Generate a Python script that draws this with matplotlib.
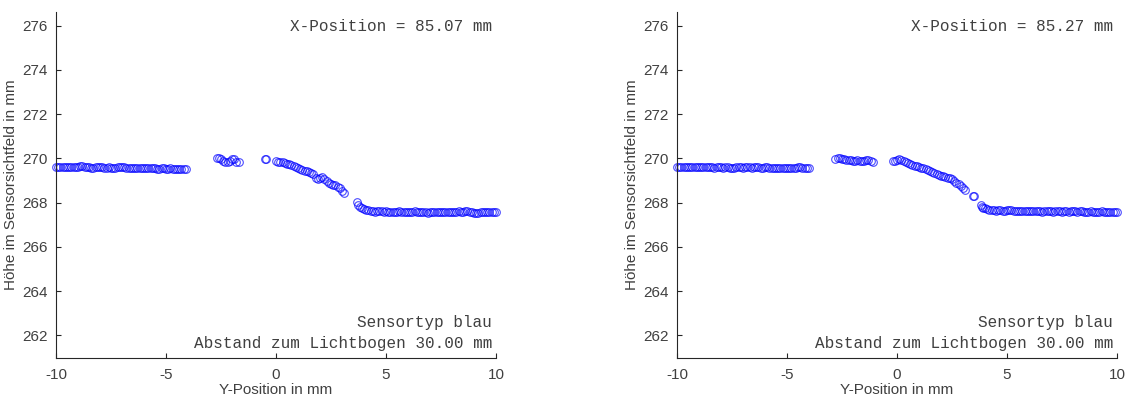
import numpy as np
import matplotlib.pyplot as plt

# Profil 1 (X = 85.07 mm)
y_pos_1 = [
    -10.0, -9.9, -9.8, -9.7, -9.6, -9.5, -9.4, -9.3, -9.2, -9.1, -9.0,
    -8.9, -8.8, -8.7, -8.6, -8.5, -8.4, -8.3, -8.2, -8.1, -8.0,
    -7.9, -7.8, -7.7, -7.6, -7.5, -7.4, -7.3, -7.2, -7.1, -7.0,
    -6.9, -6.8, -6.7, -6.6, -6.5, -6.4, -6.3, -6.2, -6.1, -6.0,
    -5.9, -5.8, -5.7, -5.6, -5.5, -5.4, -5.3, -5.2, -5.1, -5.0,
    -4.9, -4.8, -4.7, -4.6, -4.5, -4.4, -4.3, -4.2, -4.1,
    -2.7, -2.6, -2.5, -2.4, -2.3, -2.2, -2.1, -2.0, -1.9, -1.8, -1.7,
    -0.5, -0.45,
    0.0, 0.1, 0.2, 0.3, 0.4, 0.5, 0.6, 0.7, 0.8, 0.9, 1.0,
    1.1, 1.2, 1.3, 1.4, 1.5, 1.6, 1.7, 1.8, 1.9, 2.0,
    2.1, 2.2, 2.3, 2.4, 2.5, 2.6, 2.7, 2.8, 2.9, 3.0, 3.1,
    3.7, 3.75, 3.8, 3.9, 4.0, 4.1, 4.2, 4.3,
    4.4, 4.5, 4.6, 4.7, 4.8, 4.9, 5.0,
    5.1, 5.2, 5.3, 5.4, 5.5, 5.6, 5.7, 5.8, 5.9, 6.0,
    6.1, 6.2, 6.3, 6.4, 6.5, 6.6, 6.7, 6.8, 6.9, 7.0,
    7.1, 7.2, 7.3, 7.4, 7.5, 7.6, 7.7, 7.8, 7.9, 8.0,
    8.1, 8.2, 8.3, 8.4, 8.5, 8.6, 8.7, 8.8, 8.9, 9.0,
    9.1, 9.2, 9.3, 9.4, 9.5, 9.6, 9.7, 9.8, 9.9, 10.0,
]
hoehe_1 = [
    269.63, 269.63, 269.63, 269.63, 269.62, 269.62, 269.62, 269.62, 269.61, 269.61, 269.62,
    269.64, 269.65, 269.62, 269.60, 269.61, 269.58, 269.59, 269.60, 269.61, 269.62,
    269.60, 269.58, 269.59, 269.60, 269.58, 269.57, 269.58, 269.60, 269.62, 269.63,
    269.61, 269.59, 269.58, 269.57, 269.57, 269.56, 269.57, 269.57, 269.56, 269.57,
    269.56, 269.57, 269.56, 269.55, 269.56, 269.54, 269.52, 269.55, 269.56, 269.54,
    269.53, 269.55, 269.54, 269.52, 269.53, 269.51, 269.50, 269.51, 269.50,
    270.02, 270.02, 269.97, 269.90, 269.85, 269.84, 269.90, 269.98, 269.96, 269.86, 269.84,
    269.98, 269.96,
    269.88, 269.86, 269.84, 269.82, 269.80, 269.77, 269.73, 269.69, 269.65, 269.61, 269.57,
    269.52, 269.48, 269.44, 269.42, 269.38, 269.34, 269.30, 269.12, 269.05, 269.10,
    269.14, 269.08, 268.98, 268.90, 268.86, 268.82, 268.78, 268.72, 268.65, 268.55, 268.42,
    268.03, 267.88, 267.82, 267.78, 267.72, 267.68, 267.65, 267.62,
    267.61, 267.60, 267.61, 267.62, 267.61, 267.60, 267.61,
    267.60, 267.59, 267.60, 267.58, 267.59, 267.61, 267.60, 267.58, 267.57, 267.58,
    267.59, 267.60, 267.61, 267.58, 267.56, 267.57, 267.58, 267.56, 267.55, 267.57,
    267.59, 267.60, 267.58, 267.57, 267.58, 267.59, 267.58, 267.57, 267.59, 267.58,
    267.59, 267.60, 267.61, 267.59, 267.60, 267.61, 267.62, 267.60, 267.56, 267.54,
    267.53, 267.54, 267.56, 267.58, 267.59, 267.58, 267.59, 267.58, 267.57, 267.58,
]

# Profil 2 (X = 85.27 mm)
y_pos_2 = [
    -10.0, -9.9, -9.8, -9.7, -9.6, -9.5, -9.4, -9.3, -9.2, -9.1, -9.0,
    -8.9, -8.8, -8.7, -8.6, -8.5, -8.4, -8.3, -8.2, -8.1, -8.0,
    -7.9, -7.8, -7.7, -7.6, -7.5, -7.4, -7.3, -7.2, -7.1, -7.0,
    -6.9, -6.8, -6.7, -6.6, -6.5, -6.4, -6.3, -6.2, -6.1, -6.0,
    -5.9, -5.8, -5.7, -5.6, -5.5, -5.4, -5.3, -5.2, -5.1, -5.0,
    -4.9, -4.8, -4.7, -4.6, -4.5, -4.4, -4.3, -4.2, -4.1, -4.0,
    -2.8, -2.7, -2.6, -2.5, -2.4, -2.3, -2.2, -2.1, -2.0,
    -1.9, -1.8, -1.7, -1.6, -1.5, -1.4, -1.3, -1.2, -1.1,
    -0.2, -0.1, 0.0, 0.1, 0.2, 0.3, 0.4, 0.5, 0.6, 0.7, 0.8, 0.9, 1.0,
    1.1, 1.2, 1.3, 1.4, 1.5, 1.6, 1.7, 1.8, 1.9, 2.0,
    2.1, 2.2, 2.3, 2.4, 2.5, 2.6, 2.7, 2.8, 2.9, 3.0, 3.1,
    3.45, 3.5,
    3.8, 3.85, 3.9, 4.0, 4.1, 4.2, 4.3, 4.4,
    4.5, 4.6, 4.7, 4.8, 4.9, 5.0,
    5.1, 5.2, 5.3, 5.4, 5.5, 5.6, 5.7, 5.8, 5.9, 6.0,
    6.1, 6.2, 6.3, 6.4, 6.5, 6.6, 6.7, 6.8, 6.9, 7.0,
    7.1, 7.2, 7.3, 7.4, 7.5, 7.6, 7.7, 7.8, 7.9, 8.0,
    8.1, 8.2, 8.3, 8.4, 8.5, 8.6, 8.7, 8.8, 8.9, 9.0,
    9.1, 9.2, 9.3, 9.4, 9.5, 9.6, 9.7, 9.8, 9.9, 10.0,
]
hoehe_2 = [
    269.62, 269.62, 269.63, 269.63, 269.62, 269.62, 269.63, 269.63, 269.62, 269.62, 269.61,
    269.62, 269.61, 269.60, 269.61, 269.62, 269.60, 269.59, 269.60, 269.61, 269.60,
    269.59, 269.60, 269.61, 269.59, 269.58, 269.59, 269.60, 269.61, 269.60, 269.59,
    269.60, 269.61, 269.60, 269.59, 269.60, 269.61, 269.60, 269.59, 269.58, 269.60,
    269.61, 269.59, 269.58, 269.57, 269.58, 269.59, 269.57, 269.56, 269.57, 269.58,
    269.57, 269.55, 269.56, 269.58, 269.60, 269.61, 269.58, 269.55, 269.56, 269.57,
    269.98, 270.00, 270.00, 269.99, 269.97, 269.94, 269.92, 269.93, 269.90,
    269.89, 269.92, 269.90, 269.88, 269.90, 269.92, 269.94, 269.90, 269.84,
    269.88, 269.90, 269.93, 269.96, 269.93, 269.88, 269.82, 269.78, 269.74, 269.70, 269.66, 269.64, 269.60,
    269.56, 269.58, 269.52, 269.47, 269.44, 269.40, 269.34, 269.28, 269.24, 269.22,
    269.20, 269.16, 269.12, 269.10, 269.06, 268.98, 268.90, 268.84, 268.76, 268.68, 268.58,
    268.32, 268.30,
    267.90, 267.82, 267.78, 267.74, 267.70, 267.68, 267.66, 267.65,
    267.64, 267.65, 267.66, 267.64, 267.63, 267.65,
    267.66, 267.65, 267.64, 267.63, 267.64, 267.62, 267.61, 267.63, 267.64, 267.63,
    267.62, 267.63, 267.64, 267.62, 267.61, 267.60, 267.62, 267.63, 267.62, 267.61,
    267.60, 267.62, 267.63, 267.61, 267.60, 267.62, 267.61, 267.60, 267.62, 267.63,
    267.61, 267.60, 267.61, 267.62, 267.60, 267.59, 267.60, 267.61, 267.60, 267.59,
    267.58, 267.60, 267.61, 267.59, 267.58, 267.60, 267.59, 267.58, 267.59, 267.58,
]

x_positionen = ['85.07', '85.27']
sensortyp = 'blau'
abstand = '30.00'

x_ticks = [-10, -5, 0, 5, 10]
y_ticks = [262, 264, 266, 268, 270, 272, 274, 276]

# ---------------- Grafik ----------------
plt.rcParams['font.family'] = ['Liberation Sans', 'DejaVu Sans']
plt.rcParams['axes.unicode_minus'] = False
grau = '#404040'

fig = plt.figure(figsize=(11.29, 4.01), dpi=100)
ax1 = fig.add_axes([0.0496, 0.1072, 0.3897, 0.863])
ax2 = fig.add_axes([0.5996, 0.1072, 0.3897, 0.863])

for ax, yp, h, xp in [(ax1, y_pos_1, hoehe_1, x_positionen[0]),
                      (ax2, y_pos_2, hoehe_2, x_positionen[1])]:
    ax.plot(yp, h, 'o', mfc='none', mec='#0000ff', mew=0.8, ms=5.5, alpha=0.7,
            clip_on=False)
    ax.set_xlim(-10, 10)
    ax.set_ylim(260.98, 276.62)
    ax.set_xticks(x_ticks)
    ax.set_yticks(y_ticks)
    ax.spines['top'].set_visible(False)
    ax.spines['right'].set_visible(False)
    for s in ['left', 'bottom']:
        ax.spines[s].set_color('#262626')
        ax.spines[s].set_linewidth(0.8)
    ax.tick_params(direction='in', length=3.5, width=0.8, colors='#262626',
                   labelsize=11, labelcolor=grau)
    ax.tick_params(axis='x', pad=7)
    ax.tick_params(axis='y', pad=6)
    ax.set_xlabel('Y-Position in mm', fontsize=11, color=grau, labelpad=1)
    ax.set_ylabel('Höhe im Sensorsichtfeld in mm', fontsize=11, color=grau, labelpad=3)

    ax.text(0.991, 0.9575, 'X-Position = ' + xp + ' mm', transform=ax.transAxes,
            ha='right', va='center', family='Liberation Mono', fontsize=11.5, color=grau)
    ax.text(0.991, 0.102, 'Sensortyp ' + sensortyp, transform=ax.transAxes,
            ha='right', va='center', family='Liberation Mono', fontsize=11.5, color=grau)
    ax.text(0.991, 0.0425, 'Abstand zum Lichtbogen ' + abstand + ' mm', transform=ax.transAxes,
            ha='right', va='center', family='Liberation Mono', fontsize=11.5, color=grau)

fig.savefig('out.png', dpi=100)
